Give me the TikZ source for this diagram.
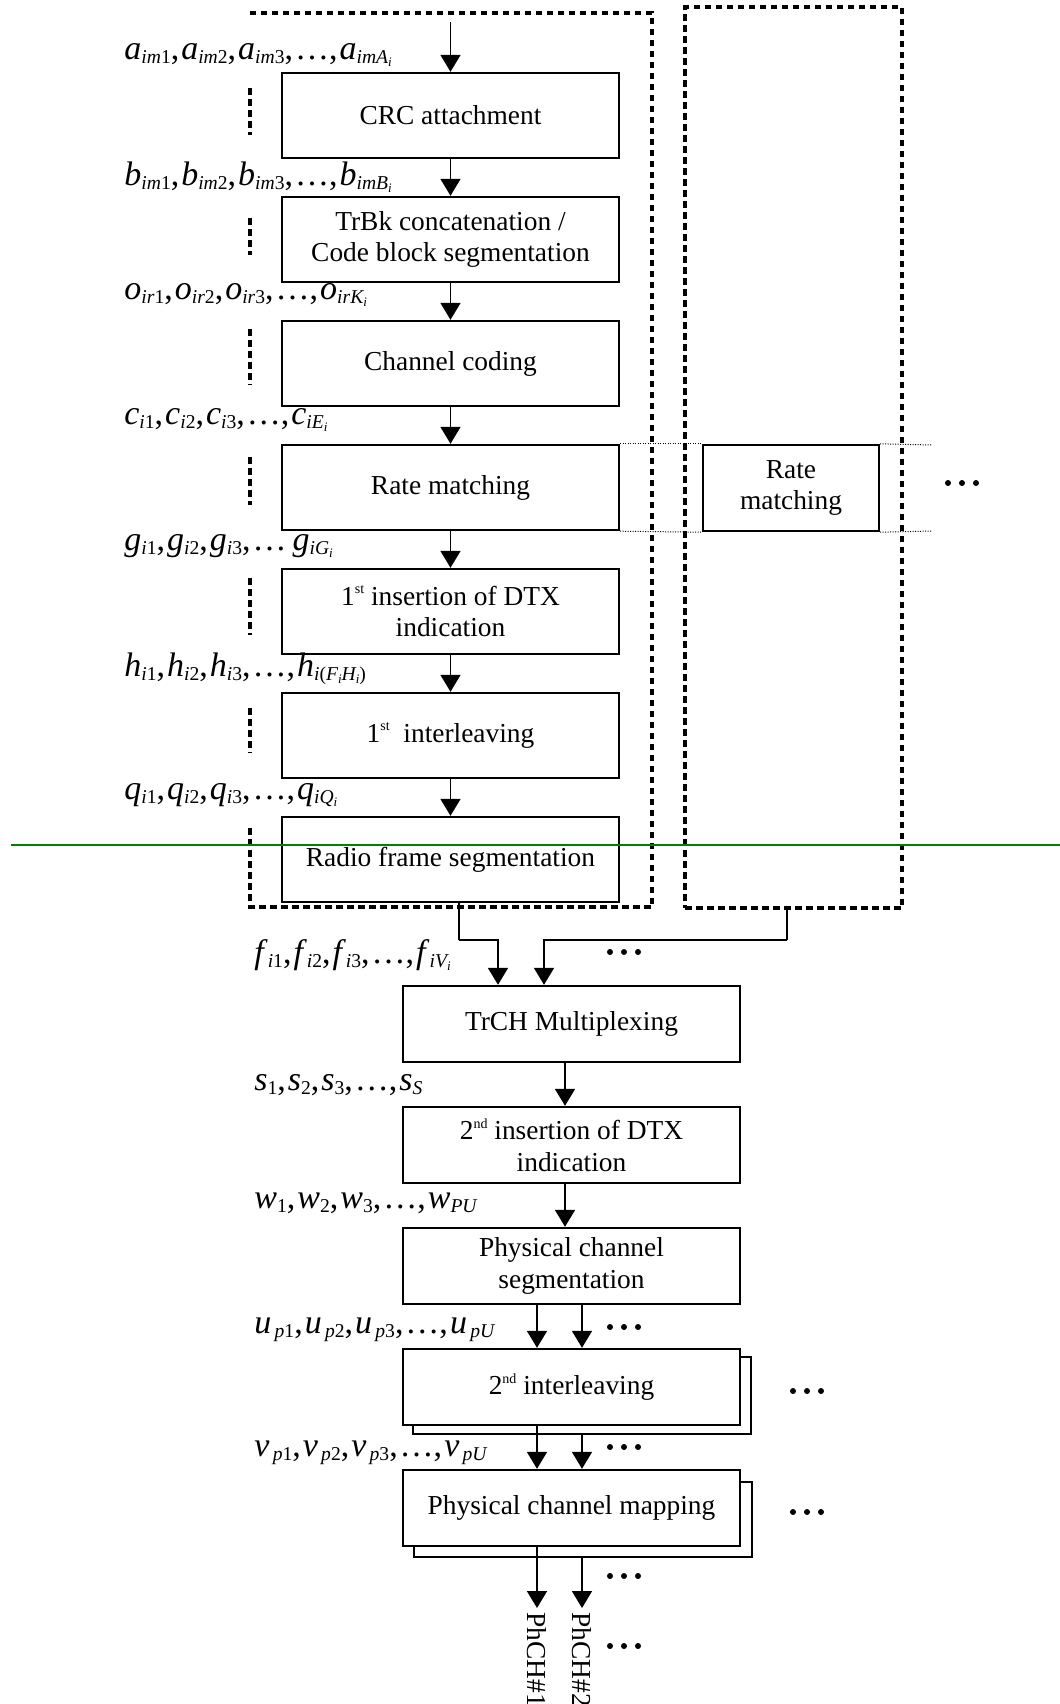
\documentclass[tikz,border=0pt]{standalone}
\usepackage{fontspec}
\setmainfont{Liberation Serif}
\usetikzlibrary{arrows.meta}
\newcommand\Sb[1]{\raisebox{-2.4pt}{\fontsize{9.8}{9.8}\selectfont\itshape #1}}
\newcommand\Ss[1]{\raisebox{-1.5pt}{\fontsize{6.5}{6.5}\selectfont\itshape #1}}
\newcommand\Lt[2]{\textit{#1}\Sb{#2}}
\newcommand\Cm{,\hspace{1pt}}
\newcommand\Dt{\char"2026}
\newcommand\Sup[1]{\raisebox{0.9ex}{\fontsize{7}{7}\selectfont #1}}
\tikzset{
  blk/.style={draw, line width=1.2pt, fill=white, inner sep=0pt, align=center,
    minimum width=168.5pt, minimum height=42.5pt, font=\fontsize{13.7}{15.8}\selectfont},
  lblk/.style={blk, minimum height=38pt},
  backblk/.style={draw, line width=1.2pt, fill=white, inner sep=0pt, minimum width=169pt},
  arr/.style={line width=0.9pt, -{Triangle[length=8.5pt,width=10pt]}},
  wire/.style={line width=0.9pt},
  dotln/.style={line width=2.15pt, dash pattern=on 3.25pt off 2.25pt},
  dotbox/.style={draw, dotln, inner sep=0pt},
  fine/.style={line width=0.5pt, dash pattern=on 0.5pt off 0.75pt},
  lbl/.style={anchor=base west, inner sep=0pt, font=\fontsize{17}{20}\selectfont},
  ph/.style={rotate=-90, anchor=west, inner xsep=2pt, inner ysep=0pt, font=\fontsize{13.7}{15.8}\selectfont},
  tri/.pic={\foreach \dx in {-14,0,14} \fill (\dx,0) circle[radius=1.5pt];}
}
\begin{document}
\begin{tikzpicture}[x=0.5pt,y=-0.5pt]
\useasboundingbox (0,0) rectangle (1060,1704);

% left dotted group (left side interrupted by labels)
\draw[dotln] (250,88) -- (250,135);
\draw[dotln] (250,218) -- (250,255);
\draw[dotln] (250,329) -- (250,385);
\draw[dotln] (250,457) -- (250,505);
\draw[dotln] (250,578) -- (250,635);
\draw[dotln] (250,708) -- (250,753);
\draw[dotln] (250,828) -- (250,907) -- (652,907) -- (652,13) -- (250,13);
% right dotted group
\node[dotbox, minimum width=108.5pt, minimum height=450.5pt] (grp2) at (793.5,457.5) {};

% upper chain
\coordinate (in) at (450.5,22);
\node[blk] (crc) at (450.5,115.5) {CRC attachment};
\node[blk] (trbk) at (450.5,239.5) {TrBk concatenation /\\Code block segmentation};
\node[blk] (cc) at (450.5,363.5) {Channel coding};
\node[blk] (rm) at (450.5,487.5) {Rate matching};
\node[blk] (dtx1) at (450.5,611.5) {1\Sup{st} insertion of DTX\\indication};
\node[blk] (il1) at (450.5,735.5) {1\Sup{st}\ \ interleaving};
\node[blk] (rfs) at (450.5,859.5) {Radio frame segmentation};

\draw[arr] (in) -- (crc);
\draw[arr] (crc) -- (trbk);
\draw[arr] (trbk) -- (cc);
\draw[arr] (cc) -- (rm);
\draw[arr] (rm) -- (dtx1);
\draw[arr] (dtx1) -- (il1);
\draw[arr] (il1) -- (rfs);

% second rate matching
\node[blk, minimum width=88pt, minimum height=43pt] (rm2) at (791,488) {Rate\\matching};
\coordinate (fe1) at (932,445);
\coordinate (fe2) at (932,531);
\draw[fine] (rm.north east) -- (rm2.north west);
\draw[fine] (rm.south east) -- (rm2.south west);
\draw[fine] (rm2.north east) -- (fe1);
\draw[fine] (rm2.south east) -- (fe2);
\pic at (962,483) {tri};

% labels upper
\node[lbl] (la) at (124,59) {\Lt{a}{im\textup{1}}\Cm\Lt{a}{im\textup{2}}\Cm\Lt{a}{im\textup{3}}\Cm\Dt\Cm\Lt{a}{imA\Ss{i}}};
\node[lbl] (lb) at (124,185) {\Lt{b}{im\textup{1}}\Cm\Lt{b}{im\textup{2}}\Cm\Lt{b}{im\textup{3}}\Cm\Dt\Cm\Lt{b}{imB\Ss{i}}};
\node[lbl] (lo) at (124,299) {\Lt{o}{ir\textup{1}}\Cm\Lt{o}{ir\textup{2}}\Cm\Lt{o}{ir\textup{3}}\Cm\Dt\Cm\Lt{o}{irK\Ss{i}}};
\node[lbl] (lc) at (124,424) {\Lt{c}{i\textup{1}}\Cm\Lt{c}{i\textup{2}}\Cm\Lt{c}{i\textup{3}}\Cm\Dt\Cm\Lt{c}{iE\Ss{i}}};
\node[lbl] (lg) at (124,550) {\Lt{g}{i\textup{1}}\Cm\Lt{g}{i\textup{2}}\Cm\Lt{g}{i\textup{3}}\Cm\Dt\hspace{3pt}\Lt{g}{iG\Ss{i}}};
\node[lbl] (lh) at (124,676) {\Lt{h}{i\textup{1}}\Cm\Lt{h}{i\textup{2}}\Cm\Lt{h}{i\textup{3}}\Cm\Dt\Cm\Lt{h}{i\textup{(}F\Ss{i}H\Ss{i}\textup{)}}};
\node[lbl] (lq) at (124,799) {\Lt{q}{i\textup{1}}\Cm\Lt{q}{i\textup{2}}\Cm\Lt{q}{i\textup{3}}\Cm\Dt\Cm\Lt{q}{iQ\Ss{i}}};

% lower chain
\node[lblk] (trch) at (571.5,1024) {TrCH Multiplexing};
\node[lblk] (dtx2) at (571.5,1145) {2\Sup{nd} insertion of DTX\\indication};
\node[lblk] (pcs) at (571.5,1266) {Physical channel\\segmentation};
\node[backblk, minimum height=38.5pt] (il2b) at (582,1395.5) {};
\node[lblk] (il2) at (571.5,1387) {2\Sup{nd} interleaving};
\node[backblk, minimum height=37.5pt] (pcmb) at (583,1519.5) {};
\node[lblk] (pcm) at (571.5,1508) {Physical channel mapping};

% connectors from groups
\coordinate (j1) at (459,940);
\coordinate (j2) at (787,940);
\draw[wire] ([xshift=4.25pt]rfs.south) -- (j1);
\draw[arr] (j1) -| ([xshift=-36.75pt]trch.north);
\draw[wire] ([xshift=-3.25pt]grp2.south) -- (j2);
\draw[arr] (j2) -| ([xshift=-13.75pt]trch.north);
\pic at (624,952) {tri};

\draw[arr] ([xshift=-3.25pt]trch.south) -- ([xshift=-3.25pt]dtx2.north);
\draw[arr] ([xshift=-3.25pt]dtx2.south) -- ([xshift=-3.25pt]pcs.north);
\draw[arr] ([xshift=-17.25pt]pcs.south) -- ([xshift=-17.25pt]il2.north);
\draw[arr] ([xshift=5.25pt]pcs.south) -- ([xshift=5.25pt]il2.north);
\pic at (624,1327) {tri};
\pic at (807,1391) {tri};
\draw[arr] ([xshift=-17.25pt]il2.south) -- ([xshift=-17.25pt]pcm.north);
\draw[arr] (il2b.south) -- ([xshift=5.25pt]pcm.north);
\pic at (624,1447) {tri};
\pic at (807,1512) {tri};

\node[ph] (ph1) at (537,1608) {PhCH\#1};
\node[ph] (ph2) at (582,1608) {PhCH\#2};
\draw[arr] ([xshift=-17.25pt]pcm.south) -- (ph1.west);
\draw[arr] ([xshift=-0.5pt]pcmb.south) -- (ph2.west);
\pic at (624,1576) {tri};
\pic at (624,1646) {tri};

% labels lower
\node[lbl] (lf) at (254,963) {\Lt{f}{i\textup{1}}\Cm\Lt{f}{i\textup{2}}\Cm\Lt{f}{i\textup{3}}\Cm\Dt\Cm\Lt{f}{iV\Ss{i}}};
\node[lbl] (ls) at (254,1090) {\Lt{s}{\textup{1}}\Cm\Lt{s}{\textup{2}}\Cm\Lt{s}{\textup{3}}\Cm\Dt\Cm\Lt{s}{S}};
\node[lbl] (lw) at (254,1208) {\Lt{w}{\textup{1}}\Cm\Lt{w}{\textup{2}}\Cm\Lt{w}{\textup{3}}\Cm\Dt\Cm\Lt{w}{PU}};
\node[lbl] (lu) at (254,1333) {\Lt{u}{\,p\textup{1}}\Cm\Lt{u}{\,p\textup{2}}\Cm\Lt{u}{\,p\textup{3}}\Cm\Dt\Cm\Lt{u}{\,pU}};
\node[lbl] (lv) at (254,1456) {\Lt{v}{\,p\textup{1}}\Cm\Lt{v}{\,p\textup{2}}\Cm\Lt{v}{\,p\textup{3}}\Cm\Dt\Cm\Lt{v}{\,pU}};

% green rule
\coordinate (g1) at (11,845);
\coordinate (g2) at (1060,845);
\draw[color={rgb,255:red,0;green,128;blue,0}, line width=0.75pt] (g1) -- (g2);
\end{tikzpicture}
\end{document}
